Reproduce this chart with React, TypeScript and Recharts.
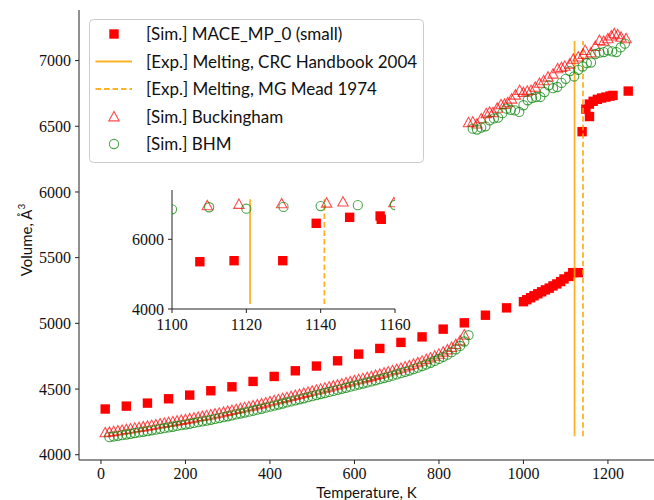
import React from 'react';
import { ScatterChart, Scatter, XAxis, YAxis, Legend, CartesianGrid, Label } from 'recharts';

// ---------- data ----------
const maceT = [10, 60, 110, 160, 210, 260, 310, 360, 410, 460, 510, 560, 610, 660, 710, 760, 810, 860, 910, 960,
  1000, 1008, 1017, 1025, 1034, 1043, 1052, 1061, 1070, 1079, 1088, 1096, 1107.5, 1116.7, 1129.8,
  1138.8, 1147.8, 1156, 1156.3, 1165, 1175, 1185, 1195, 1205, 1212, 1248];
const maceV = [4348, 4370, 4393, 4426, 4454, 4487, 4517, 4558, 4596, 4639, 4675, 4715, 4766, 4809, 4855, 4897, 4956, 5004, 5062, 5118,
  5165, 5180, 5195, 5210, 5225, 5240, 5255, 5268, 5285, 5300, 5318, 5338, 5357, 5386, 5386,
  6459, 6631, 6669, 6574, 6690, 6705, 6715, 6722, 6730, 6735, 6768];

const buckT = [10, 20, 30, 40, 50, 60, 70, 80, 90, 100, 110, 120, 130, 140, 150, 160, 170, 180, 190, 200,
  210, 220, 230, 240, 250, 260, 270, 280, 290, 300, 310, 320, 330, 340, 350, 360, 370, 380, 390, 400,
  410, 420, 430, 440, 450, 460, 470, 480, 490, 500, 510, 520, 530, 540, 550, 560, 570, 580, 590, 600,
  610, 620, 630, 640, 650, 660, 670, 680, 690, 700, 710, 720, 730, 740, 750, 760, 770, 780, 790, 800,
  810, 820, 830, 840, 850, 860,
  870, 880, 890, 900, 912, 920, 928, 938, 947, 955, 963, 972, 981, 991, 1000, 1009, 1018, 1028, 1038, 1048,
  1058, 1070, 1081, 1090, 1098, 1109.5, 1118, 1129.5, 1141.6, 1146, 1159.7, 1170, 1180, 1190, 1200, 1208, 1215, 1223, 1231, 1243];
const buckV = [4170, 4174, 4179, 4184, 4189, 4194, 4199, 4205, 4210, 4215, 4220, 4226, 4231, 4237, 4242, 4248, 4253, 4259, 4265, 4270,
  4276, 4282, 4288, 4294, 4300, 4306, 4313, 4319, 4326, 4333, 4340, 4347, 4354, 4361, 4368, 4375, 4383, 4390, 4398, 4406,
  4414, 4422, 4430, 4438, 4446, 4454, 4462, 4470, 4478, 4486, 4494, 4502, 4510, 4518, 4526, 4534, 4542, 4550, 4558, 4566,
  4574, 4582, 4590, 4598, 4607, 4615, 4624, 4633, 4642, 4651, 4661, 4671, 4681, 4692, 4703, 4715, 4727, 4740, 4754, 4768,
  4784, 4801, 4820, 4842, 4870, 4915,
  6530, 6535, 6520, 6560, 6599, 6610, 6606, 6640, 6667, 6670, 6682, 6710, 6740, 6776, 6760, 6770, 6776, 6800, 6830, 6850,
  6877, 6900, 6941, 6950, 6960, 6976, 7013, 7030, 7050, 7080, 7062, 7110, 7156, 7150, 7169, 7190, 7207, 7200, 7181, 7169];

const bhmT = [20, 30, 40, 50, 60, 70, 80, 90, 100, 110, 120, 130, 140, 150, 160, 170, 180, 190, 200,
  210, 220, 230, 240, 250, 260, 270, 280, 290, 300, 310, 320, 330, 340, 350, 360, 370, 380, 390, 400,
  410, 420, 430, 440, 450, 460, 470, 480, 490, 500, 510, 520, 530, 540, 550, 560, 570, 580, 590, 600,
  610, 620, 630, 640, 650, 660, 670, 680, 690, 700, 710, 720, 730, 740, 750, 760, 770, 780, 790, 800,
  810, 820, 830, 840, 850, 860, 870,
  880, 890, 900, 910, 920, 930, 940, 950, 960, 970, 980, 990, 1000, 1010, 1020, 1030, 1040, 1050, 1060, 1070,
  1080, 1090, 1100, 1110, 1120, 1130, 1140, 1150, 1160, 1170, 1180, 1190, 1200, 1210, 1220, 1230, 1240];
const bhmV = [4134, 4139, 4144, 4149, 4154, 4159, 4165, 4170, 4175, 4180, 4186, 4191, 4197, 4202, 4208, 4213, 4219, 4225, 4230,
  4236, 4242, 4248, 4254, 4260, 4266, 4273, 4279, 4286, 4293, 4300, 4307, 4314, 4321, 4328, 4335, 4343, 4350, 4358, 4366,
  4374, 4382, 4390, 4398, 4406, 4414, 4422, 4430, 4438, 4446, 4454, 4462, 4470, 4478, 4486, 4494, 4502, 4510, 4518, 4526,
  4534, 4542, 4550, 4558, 4567, 4575, 4584, 4593, 4602, 4611, 4621, 4631, 4641, 4652, 4663, 4675, 4687, 4700, 4714, 4729,
  4745, 4762, 4781, 4802, 4828, 4862, 4910,
  6482, 6475, 6490, 6500, 6545, 6560, 6566, 6600, 6634, 6625, 6621, 6609, 6660, 6698, 6715, 6723, 6723, 6760, 6812, 6790,
  6799, 6830, 6861, 6920, 6879, 6930, 6955, 6980, 6985, 7050, 7060, 7065, 7078, 7070, 7065, 7100, 7129];

const meltCRC = 1121;
const meltMead = 1141;
const meltRange = [4140, 7150];

const xTicks = [0, 200, 400, 600, 800, 1000, 1200];
const yTicks = [4000, 4500, 5000, 5500, 6000, 6500, 7000];
const insetXTicks = [1100, 1120, 1140, 1160];
const insetYTicks = [4000, 6000];

const legendLabels = [
  '[Sim.] MACE_MP_0 (small)',
  '[Exp.] Melting, CRC Handbook 2004',
  '[Exp.] Melting, MG Mead 1974',
  '[Sim.] Buckingham',
  '[Sim.] BHM',
];

// ---------- build ----------
const zip = (ts: number[], vs: number[]) => ts.map((t, i) => ({ T: t, V: vs[i] }));
const maceData = zip(maceT, maceV);
const buckData = zip(buckT, buckV);
const bhmData = zip(bhmT, bhmV);
const crcData = [{ T: meltCRC, V: meltRange[0] }, { T: meltCRC, V: meltRange[1] }];
const meadData = [{ T: meltMead, V: meltRange[0] }, { T: meltMead, V: meltRange[1] }];
const inRange = (d: { T: number }[]) => d.filter((p) => p.T >= 1098 && p.T <= 1162);

const RED = '#ff0000';
const GREEN = '#008000';
const ORANGE = '#ffa500';
const AXIS = '#222';
const SERIF = '"Liberation Serif", "Times New Roman", serif';
const SANS = 'Lato, "Open Sans", sans-serif';

const SquareShape = (p: any) => <rect x={p.cx - 4.7} y={p.cy - 4.7} width={9.4} height={9.4} fill={RED} />;
const TriShape = (p: any) => (
  <polygon
    points={`${p.cx},${p.cy - 5} ${p.cx - 5.2},${p.cy + 4.4} ${p.cx + 5.2},${p.cy + 4.4}`}
    fill="none" stroke={RED} strokeOpacity={0.7} strokeWidth={1.1}
  />
);
const CircShape = (p: any) => (
  <circle cx={p.cx} cy={p.cy} r={4.6} fill="none" stroke={GREEN} strokeOpacity={0.7} strokeWidth={1.1} />
);
const NoShape = () => <g />;

const LegendBox = () => {
  const rows = [15, 42.5, 70, 97.5, 125];
  return (
    <svg width={336} height={145} style={{ display: 'block' }}>
      <rect x={0.5} y={0.5} width={334} height={143} rx={4} fill="#fff" fillOpacity={0.8} stroke="#cccccc" />
      <rect x={20.3} y={rows[0] - 4.7} width={9.4} height={9.4} fill={RED} />
      <line x1={6.5} x2={43} y1={rows[1]} y2={rows[1]} stroke={ORANGE} strokeOpacity={0.85} strokeWidth={1.8} />
      <line x1={6.5} x2={43} y1={rows[2]} y2={rows[2]} stroke={ORANGE} strokeOpacity={0.85} strokeWidth={1.8} strokeDasharray="5.5 3" />
      <polygon points={`25,${rows[3] - 5} 19.8,${rows[3] + 4.4} 30.2,${rows[3] + 4.4}`} fill="none" stroke={RED} strokeOpacity={0.7} strokeWidth={1.1} />
      <circle cx={25} cy={rows[4]} r={4.6} fill="none" stroke={GREEN} strokeOpacity={0.7} strokeWidth={1.1} />
      {legendLabels.map((l, i) => (
        <text key={i} x={57} y={rows[i] + 6} fontFamily={SANS} fontSize={17} fill="#111">{l}</text>
      ))}
    </svg>
  );
};

const tickStyle = { fontFamily: SERIF, fontSize: 16, fill: '#111' };

export default function App() {
  return (
    <div style={{ position: 'absolute', left: 0, top: 0, width: 654, height: 500, background: '#fff' }}>
      <ScatterChart width={654} height={500} margin={{ top: 10, right: 0, bottom: 0, left: 0 }}>
        <XAxis
          dataKey="T" type="number" domain={[-52, 1309]} ticks={xTicks} allowDataOverflow
          height={40} tickSize={4} tickMargin={4} tick={tickStyle}
          stroke={AXIS} tickLine={{ stroke: AXIS }} axisLine={{ stroke: AXIS }}
        >
          <Label
            content={(props: any) => {
              const vb = props.viewBox || {};
              return (
                <text x={vb.x + vb.width / 2} y={498} textAnchor="middle" fontFamily={SANS} fontSize={15} fill="#111">
                  Temperature, K
                </text>
              );
            }}
          />
        </XAxis>
        <XAxis xAxisId="top" orientation="top" type="number" domain={[-52, 1309]} height={0} tick={false} tickLine={false} axisLine={{ stroke: AXIS }} />
        <YAxis
          dataKey="V" type="number" domain={[3960, 7385]} ticks={yTicks} allowDataOverflow
          width={79} tickSize={4} tickMargin={4} tick={tickStyle}
          stroke={AXIS} tickLine={{ stroke: AXIS }} axisLine={{ stroke: AXIS }}
        >
          <Label
            content={(props: any) => {
              const vb = props.viewBox || {};
              const cy = vb.y + vb.height / 2 + 5;
              return (
                <text x={32} y={cy} transform={`rotate(-90, 32, ${cy})`} textAnchor="middle" fontFamily={SANS} fontSize={15} fill="#111">
                  Volume, Å<tspan dy={-7} fontSize={10}>3</tspan>
                </text>
              );
            }}
          />
        </YAxis>
        <Scatter data={maceData} shape={SquareShape} isAnimationActive={false} legendType="none" />
        <Scatter data={crcData} shape={NoShape} line={{ stroke: ORANGE, strokeOpacity: 0.85, strokeWidth: 1.8 }} isAnimationActive={false} legendType="none" />
        <Scatter data={meadData} shape={NoShape} line={{ stroke: ORANGE, strokeOpacity: 0.85, strokeWidth: 1.8, strokeDasharray: '5.5 3' }} isAnimationActive={false} legendType="none" />
        <Scatter data={buckData} shape={TriShape} isAnimationActive={false} legendType="none" />
        <Scatter data={bhmData} shape={CircShape} isAnimationActive={false} legendType="none" />
        <Legend
          layout="vertical" verticalAlign="middle" align="center"
          content={() => <LegendBox />}
          wrapperStyle={{ position: 'absolute', left: 89, top: 19, width: 336, height: 145 }}
        />
      </ScatterChart>

      <div style={{ position: 'absolute', left: 100, top: 180 }}>
        <ScatterChart width={330} height={160} margin={{ top: 10, right: 35, bottom: 0, left: 0 }}>
          <CartesianGrid fill="#ffffff" horizontal={false} vertical={false} />
          <XAxis
            dataKey="T" type="number" domain={[1100, 1160]} ticks={insetXTicks} allowDataOverflow
            height={31} tickSize={4} tickMargin={6} tick={tickStyle}
            stroke={AXIS} tickLine={{ stroke: AXIS }} axisLine={{ stroke: AXIS }}
          />
          <XAxis xAxisId="top" orientation="top" type="number" domain={[1100, 1160]} height={0} tick={false} tickLine={false} axisLine={{ stroke: AXIS }} />
          <YAxis
            dataKey="V" type="number" domain={[4000, 7415]} ticks={insetYTicks} allowDataOverflow
            width={72} tickSize={4} tickMargin={4} tick={tickStyle}
            stroke={AXIS} tickLine={{ stroke: AXIS }} axisLine={{ stroke: AXIS }}
          />
          <YAxis yAxisId="right" orientation="right" type="number" domain={[4000, 7415]} width={0} tick={false} tickLine={false} axisLine={{ stroke: AXIS }} />
          <Scatter data={inRange(maceData)} shape={SquareShape} isAnimationActive={false} legendType="none" />
          <Scatter data={crcData} shape={NoShape} line={{ stroke: ORANGE, strokeOpacity: 0.85, strokeWidth: 1.8 }} isAnimationActive={false} legendType="none" />
          <Scatter data={meadData} shape={NoShape} line={{ stroke: ORANGE, strokeOpacity: 0.85, strokeWidth: 1.8, strokeDasharray: '5.5 3' }} isAnimationActive={false} legendType="none" />
          <Scatter data={inRange(buckData)} shape={TriShape} isAnimationActive={false} legendType="none" />
          <Scatter data={inRange(bhmData)} shape={CircShape} isAnimationActive={false} legendType="none" />
        </ScatterChart>
      </div>
    </div>
  );
}
